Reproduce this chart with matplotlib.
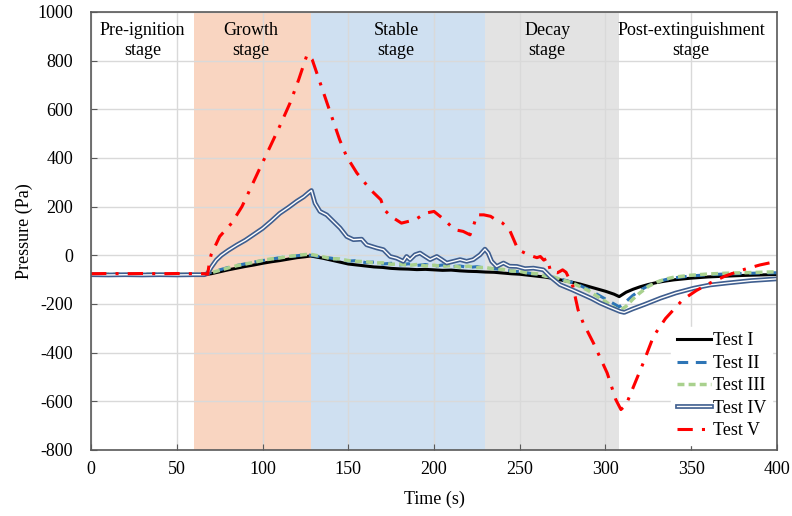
import matplotlib
matplotlib.use("Agg")
import matplotlib.pyplot as plt
import matplotlib.patheffects as pe

plt.rcParams['font.family'] = ['Liberation Serif', 'DejaVu Serif']
plt.rcParams['font.size'] = 13
plt.rcParams['axes.unicode_minus'] = False

# ---------------- data ----------------
t_a = [0, 10, 20, 30, 40, 50, 60, 66, 70, 75, 80, 85, 90, 95, 100, 105, 110, 115, 120, 125, 128,
       135, 140, 145, 150, 155, 160, 165, 170, 175, 180, 185, 190, 195, 200, 205, 210, 215, 220,
       225, 230, 235, 240, 245, 250, 255, 260, 265, 270, 275, 280, 285, 290, 295, 300, 305, 308,
       312, 316, 320, 325, 330, 335, 340, 350, 360, 370, 380, 390, 400]

test1 = [-80, -81, -80, -81, -80, -81, -80, -80, -76, -68, -60, -53, -46, -40, -33, -27, -22, -16, -10, -6, -3,
         -12, -20, -28, -36, -40, -44, -48, -50, -54, -56, -57, -59, -58, -60, -62, -61, -64, -66,
         -67, -69, -70, -73, -76, -78, -82, -86, -90, -96, -103, -110, -118, -128, -138, -148, -160, -170,
         -152, -140, -130, -120, -112, -106, -101, -94, -89, -86, -83, -81, -79]

test2 = [-78, -80, -77, -79, -78, -80, -78, -79, -70, -60, -50, -42, -35, -28, -22, -16, -10, -6, -2, 2, 0,
         -8, -12, -18, -24, -22, -30, -28, -36, -33, -40, -35, -42, -38, -45, -40, -48, -44, -50,
         -47, -53, -55, -60, -64, -68, -73, -78, -85, -92, -100, -110, -124, -140, -160, -180, -200, -212,
         -190, -165, -145, -125, -110, -100, -93, -85, -80, -77, -75, -73, -72]

test3 = [-79, -78, -80, -78, -79, -78, -80, -78, -72, -62, -52, -43, -36, -29, -21, -15, -11, -5, -1, 3, 4,
         -6, -14, -15, -22, -25, -26, -32, -31, -37, -36, -42, -38, -44, -41, -46, -42, -49, -45,
         -51, -50, -57, -58, -65, -66, -74, -76, -86, -90, -102, -112, -128, -145, -168, -190, -215, -228,
         -210, -180, -155, -128, -110, -98, -90, -82, -77, -74, -72, -70, -68]

t4 = [0, 10, 20, 30, 40, 50, 60, 66, 68, 70, 73, 76, 80, 85, 90, 95, 100, 105, 110, 115, 120, 124, 127, 128.5,
      130.6, 133.5, 137.4, 141.3, 145.2, 149.1, 153, 157.8, 160.7, 166.6, 170.5, 174.4, 178.2, 182.1,
      184, 186, 188.9, 191.8, 194.8, 197.7, 201.6, 204.5, 207.4, 211.3, 215.2, 219, 222.9, 226.8,
      229.7, 231.6, 233.6, 236.5, 240.5, 244, 248.3, 253, 258, 263.8, 267.6, 273.5, 280, 287, 292,
      296.8, 302, 308.5, 310.9, 316, 322.5, 332.2, 341, 351.7, 361, 371.1, 385, 400]

test4 = [-80, -81, -80, -81, -80, -81, -80, -80, -75, -50, -20, 0, 20, 42, 62, 86, 110, 140, 172, 196, 222, 240, 258, 266,
         214, 180, 166, 139, 112, 77, 64, 66, 43, 30, 23, -5, -12, -25,
         -5, -18, 2, 9, -5, -18, -5, -18, -32, -25, -18, -25, -18, 2,
         25, 9, -25, -46, -32, -45, -46, -55, -53, -60, -87, -121, -140, -162, -178,
         -196, -212, -231, -235, -220, -203, -176, -155, -135, -122, -114, -104, -97]

t5 = [0, 10, 20, 30, 40, 50, 60, 66, 68, 69, 70, 75, 82, 88, 92, 98, 104, 110, 116, 121, 126, 129,
      134, 139, 145, 149, 155, 163, 169, 171, 175, 181, 189, 195, 200, 206, 212, 217, 221, 223, 225,
      229, 233, 236, 240, 244, 249, 255, 260, 262, 264, 266, 268, 272, 275, 277, 281, 284, 287, 293,
      301, 306, 309, 312, 314, 322, 328, 335, 345, 353, 361, 370, 380, 390, 400]

test5 = [-76, -75, -76, -75, -76, -75, -76, -76, -78, -30, 2, 77, 132, 200, 260, 351, 440, 530, 625, 720, 825, 803,
         700, 597, 474, 406, 338, 269, 228, 187, 159, 132, 146, 173, 180, 146, 105, 98, 84, 120, 166,
         166, 160, 146, 132, 105, 23, 2, -10, -5, -20, -12, -67, -72, -60, -70, -128, -224, -278, -361,
         -484, -593, -634, -615, -580, -443, -333, -260, -183, -145, -114, -85, -60, -40, -25]

stage_bounds = [0, 60, 128, 230, 308, 400]
stage_labels = ["Pre-ignition\nstage", "Growth\nstage", "Stable\nstage", "Decay\nstage",
                "Post-extinguishment\nstage"]
stage_label_x = [30, 93, 178, 266, 350]
stage_colors = [None, '#f9d5c1', '#cfe0f1', '#e3e3e3', None]

x_ticks = [0, 50, 100, 150, 200, 250, 300, 350, 400]
y_ticks = [-800, -600, -400, -200, 0, 200, 400, 600, 800, 1000]

# ---------------- figure ----------------
fig = plt.figure(figsize=(7.92, 5.16), dpi=100)
ax = fig.add_axes([0.115, 0.128, 0.866, 0.849])

for i, c in enumerate(stage_colors):
    if c is not None:
        ax.axvspan(stage_bounds[i], stage_bounds[i + 1], color=c, lw=0, zorder=0.1)

ax.set_axisbelow(True)
ax.grid(True, color='#d9d9d9', lw=1, zorder=0.5)

l1, = ax.plot(t_a, test1, color='black', lw=2.2, label='Test I', zorder=3)
l2, = ax.plot(t_a, test2, color='#2e75b6', lw=2.2, ls=(0, (3.5, 2.5)), label='Test II', zorder=3)
l3, = ax.plot(t_a, test3, color='#a9d18e', lw=2.5, ls=(0, (2, 1.2)), label='Test III', zorder=3)
l4, = ax.plot(t4, test4, color='white', lw=1.0, label='Test IV', zorder=4,
              path_effects=[pe.Stroke(linewidth=3.4, foreground='#3f5e8f'), pe.Normal()])
l5, = ax.plot(t5, test5, color='#ff0000', lw=2.2, ls=(0, (5, 3, 1, 3)), label='Test V', zorder=5)

for x, s in zip(stage_label_x, stage_labels):
    ax.text(x, 958, s, ha='center', va='top', fontsize=13, linespacing=1.2)

ax.set_xlim(0, 400)
ax.set_ylim(-800, 1000)
ax.set_xticks(x_ticks)
ax.set_yticks(y_ticks)
ax.tick_params(axis='both', direction='in', length=4, color='#595959', labelsize=13)
ax.tick_params(axis='y', pad=13)
ax.tick_params(axis='x', pad=8)
for sp in ax.spines.values():
    sp.set_color('#595959')
    sp.set_linewidth(1.2)
    sp.set_zorder(7)

ax.set_xlabel('Time (s)', fontsize=13, labelpad=9)
ax.set_ylabel('Pressure (Pa)', fontsize=13, labelpad=3)

leg = ax.legend(handles=[l1, l2, l3, l4, l5], loc='lower right', bbox_to_anchor=(1.0, 0.0),
                frameon=True, facecolor='white', edgecolor='white', framealpha=1,
                fancybox=False, handlelength=1.9, handletextpad=0.1, labelspacing=0.3,
                borderaxespad=0.3, borderpad=0.3, fontsize=13)
leg.set_zorder(6)

fig.savefig('out.png', dpi=100)
